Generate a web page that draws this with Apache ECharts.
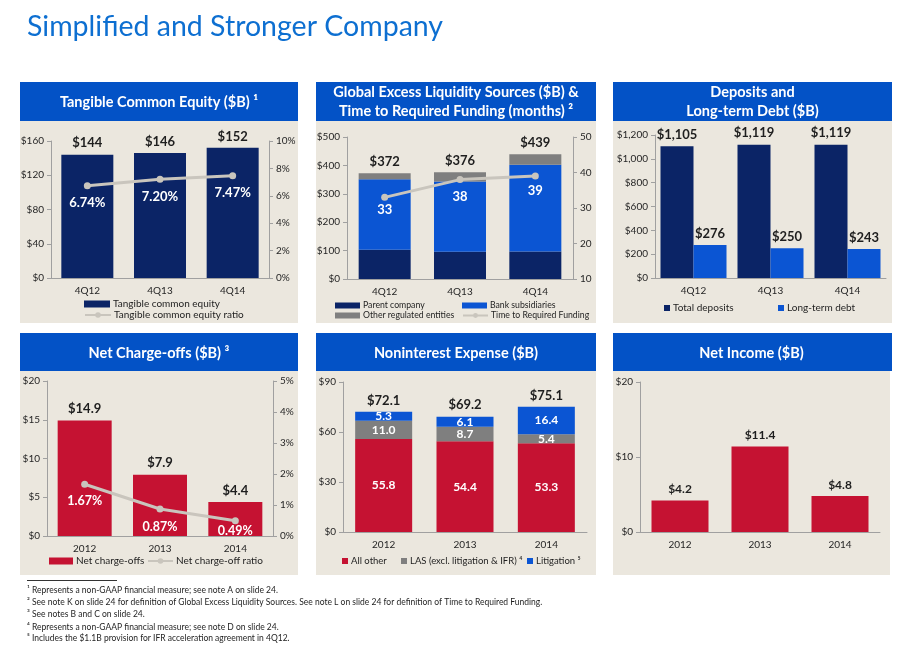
<!DOCTYPE html>
<html><head><meta charset="utf-8">
<script src="https://cdn.jsdelivr.net/npm/echarts@6/dist/echarts.min.js"></script>
<style>html,body{margin:0;padding:0;background:#fff;}#c{width:918px;height:645px;}</style>
</head><body><div id="c"></div>
<script>
// ---- data ----
const quarters = ['4Q12', '4Q13', '4Q14'];
const years = ['2012', '2013', '2014'];
const tce = [144, 146, 152];
const tceRatio = [6.74, 7.20, 7.47];
const gelsParent = [103, 96, 97];
const gelsBank = [248, 247, 305];
const gelsOther = [21, 33, 37];
const gelsTotal = [372, 376, 439];
const ttrf = [33, 38, 39];
const deposits = [1105, 1119, 1119];
const ltDebt = [276, 250, 243];
const nco = [14.9, 7.9, 4.4];
const ncoRatio = [1.67, 0.87, 0.49];
const nieAllOther = [55.8, 54.4, 53.3];
const nieLAS = [11.0, 8.7, 5.4];
const nieLit = [5.3, 6.1, 16.4];
const nieTotal = [72.1, 69.2, 75.1];
const netIncome = [4.2, 11.4, 4.8];

// ---- style ----
const F = 'Lato, "Open Sans", sans-serif';
const NAVY = '#0B2466', BLUE = '#0B55D3', GRAY = '#7F7F7F', RED = '#C51232', LG = '#C9C5BD';
const BEIGE = '#EBE7DE', HEAD = '#0352C6', AX = '#A0A0A0', TXT = '#1E1E1E';

const money = v => '$' + v.toLocaleString('en-US');
const pct = v => v + '%';

function xAx(g, data) {
  return { type: 'category', gridIndex: g, data,
    axisLine: { lineStyle: { color: AX } }, axisTick: { length: 5, lineStyle: { color: AX } },
    axisLabel: { color: '#262626', fontSize: 10, fontFamily: F, margin: 8 } };
}
function yAx(g, min, max, interval, fmt, pos) {
  return { type: 'value', gridIndex: g, min, max, interval, position: pos || 'left',
    splitLine: { show: false },
    axisLine: { show: true, lineStyle: { color: AX } },
    axisTick: { show: true, length: 4, lineStyle: { color: AX } },
    axisLabel: { color: '#262626', fontSize: 10, fontFamily: F, margin: 7, formatter: fmt } };
}
const topLbl = (fmt, size) => ({ show: true, position: 'top', distance: 5, formatter: fmt,
  fontWeight: 'bold', fontSize: size || 13, color: TXT, fontFamily: F });
const inLbl = (fmt, size) => ({ show: true, position: 'inside', formatter: fmt,
  fontWeight: 'bold', fontSize: size || 12, color: '#fff', fontFamily: F });
function lineLbl(vals, dists) {
  return vals.map((v, i) => ({ value: v, label: { distance: dists[i] } }));
}

function legendItem(name, x, y, w, h, icon, fs) {
  const d = icon ? { name, icon } : { name };
  return { show: true, left: x, top: y - 7, padding: 0, itemGap: 0, itemWidth: w, itemHeight: h,
    selectedMode: false, data: [d],
    textStyle: { fontSize: fs || 10, color: TXT, fontFamily: F, padding: [0, 0, 0, -2] } };
}

// ---- graphics ----
const panels = [
  { x: 20, y1: 82, y2: 121, y3: 323, w: 278, lines: ['Tangible Common Equity ($B) ¹'] },
  { x: 316, y1: 82, y2: 121, y3: 323, w: 280, lines: ['Global Excess Liquidity Sources ($B) &', 'Time to Required Funding (months) ²'] },
  { x: 613, y1: 82, y2: 121, y3: 323, w: 279, lines: ['Deposits and', 'Long-term Debt ($B)'] },
  { x: 20, y1: 333, y2: 371, y3: 575, w: 278, lines: ['Net Charge-offs ($B) ³'] },
  { x: 316, y1: 333, y2: 371, y3: 575, w: 280, lines: ['Noninterest Expense ($B)'] },
  { x: 613, y1: 333, y2: 371, y3: 575, w: 277, lines: ['Net Income ($B)'] },
];
const graphics = [];
panels.forEach((p, i) => {
  graphics.push({ type: 'rect', z: -10, shape: { x: p.x, y: p.y2, width: p.w, height: p.y3 - p.y2 }, style: { fill: BEIGE } });
  graphics.push({ type: 'rect', z: -10, shape: { x: p.x, y: p.y1, width: (i === 5 ? 279 : p.w), height: p.y2 - p.y1 }, style: { fill: HEAD } });
  const cx = p.x + p.w / 2, cy = (p.y1 + p.y2) / 2;
  p.lines.forEach((t, j) => {
    const yy = p.lines.length === 1 ? cy + 1 : cy + (j === 0 ? -9.5 : 9.5);
    graphics.push({ type: 'text', z: 5, style: { text: t, x: cx, y: yy, fill: '#fff', fontSize: 14.5, fontWeight: 'bold', fontFamily: F, align: 'center', verticalAlign: 'middle' } });
  });
});
graphics.push({ type: 'text', style: { text: 'Simplified and Stronger Company', x: 27, y: 27, fill: '#0D6FD1', fontSize: 28.5, fontFamily: F, align: 'left', verticalAlign: 'middle' } });
graphics.push({ type: 'line', shape: { x1: 27, y1: 580.5, x2: 117, y2: 580.5 }, style: { stroke: '#333', lineWidth: 1 } });
const notes = [
  ['¹', 'Represents a non-GAAP financial measure; see note A on slide 24.', 590],
  ['²', 'See note K on slide 24 for definition of Global Excess Liquidity Sources. See note L on slide 24 for definition of Time to Required Funding.', 602],
  ['³', 'See notes B and C on slide 24.', 614],
  ['⁴', 'Represents a non-GAAP financial measure; see note D on slide 24.', 627],
  ['⁵', 'Includes the $1.1B provision for IFR acceleration agreement in 4Q12.', 638],
];
notes.forEach(n => {
  graphics.push({ type: 'text', style: { text: n[0], x: 27, y: n[2] - 1, fill: TXT, fontSize: 8.5, fontFamily: F, verticalAlign: 'middle' } });
  graphics.push({ type: 'text', style: { text: n[1], x: 32, y: n[2], fill: TXT, fontSize: 8.5, fontFamily: F, verticalAlign: 'middle' } });
});

const option = {
  animation: false,
  textStyle: { fontFamily: F },
  grid: [
    { left: 51, top: 141, width: 218, height: 137 },
    { left: 347, top: 137, width: 226, height: 142 },
    { left: 655, top: 135, width: 231, height: 143 },
    { left: 47, top: 381, width: 226, height: 155 },
    { left: 343, top: 382, width: 244, height: 150 },
    { left: 640, top: 382, width: 240, height: 150 },
  ].map(g => Object.assign(g, { containLabel: false, outerBoundsMode: 'none' })),
  xAxis: [xAx(0, quarters), xAx(1, quarters), xAx(2, quarters), xAx(3, years), xAx(4, years), xAx(5, years)],
  yAxis: [
    yAx(0, 0, 160, 40, money),
    yAx(0, 0, 10, 2, pct, 'right'),
    yAx(1, 0, 500, 100, money),
    yAx(1, 10, 50, 10, v => v, 'right'),
    yAx(2, 0, 1200, 200, money),
    yAx(3, 0, 20, 5, money),
    yAx(3, 0, 5, 1, pct, 'right'),
    yAx(4, 0, 90, 30, money),
    yAx(5, 0, 20, 10, money),
  ],
  legend: [
    legendItem('Tangible common equity', 84, 306, 26, 7, 'rect'),
    legendItem('Tangible common equity ratio', 84, 317, 26, 7),
    legendItem('Parent company', 335, 308, 25, 6, 'rect', 8.7),
    legendItem('Bank subsidiaries', 462, 308, 25, 6, 'rect', 8.7),
    legendItem('Other regulated entities', 335, 318, 25, 6, 'rect', 8.7),
    legendItem('Time to Required Funding', 462, 318, 25, 6, null, 8.7),
    legendItem('Total deposits', 664, 310, 6, 6, 'rect'),
    legendItem('Long-term debt', 778, 310, 6, 6, 'rect'),
    legendItem('Net charge-offs', 49, 563, 24, 7, 'rect'),
    legendItem('Net charge-off ratio', 147, 563, 25, 7),
    legendItem('All other', 342, 563, 6, 6, 'rect', 9.5),
    legendItem('LAS (excl. litigation & IFR) ⁴', 401, 563, 6, 6, 'rect', 9.5),
    legendItem('Litigation ⁵', 527, 563, 6, 6, 'rect', 9.5),
  ],
  series: [
    // Panel 1
    { type: 'bar', name: 'Tangible common equity', xAxisIndex: 0, yAxisIndex: 0, data: tce, barWidth: 52,
      itemStyle: { color: NAVY }, label: topLbl(p => '$' + p.value) },
    { type: 'line', name: 'Tangible common equity ratio', xAxisIndex: 0, yAxisIndex: 1, data: tceRatio,
      symbol: 'circle', symbolSize: 7, lineStyle: { color: LG, width: 3 }, itemStyle: { color: LG }, z: 5,
      label: { show: true, position: 'bottom', distance: 7, formatter: p => p.value.toFixed(2) + '%', color: '#fff', fontWeight: 'bold', fontSize: 13, fontFamily: F } },
    // Panel 2
    { type: 'bar', name: 'Parent company', xAxisIndex: 1, yAxisIndex: 2, stack: 'g', data: gelsParent, barWidth: 52, itemStyle: { color: NAVY } },
    { type: 'bar', name: 'Bank subsidiaries', xAxisIndex: 1, yAxisIndex: 2, stack: 'g', data: gelsBank, barWidth: 52, itemStyle: { color: BLUE } },
    { type: 'bar', name: 'Other regulated entities', xAxisIndex: 1, yAxisIndex: 2, stack: 'g', data: gelsOther, barWidth: 52, itemStyle: { color: GRAY },
      label: topLbl(p => '$' + gelsTotal[p.dataIndex]) },
    { type: 'line', name: 'Time to Required Funding', xAxisIndex: 1, yAxisIndex: 3, data: lineLbl(ttrf, [2, 7, 5]),
      symbol: 'circle', symbolSize: 7, lineStyle: { color: LG, width: 3 }, itemStyle: { color: LG }, z: 5,
      label: { show: true, position: 'bottom', color: '#fff', fontWeight: 'bold', fontSize: 13, fontFamily: F } },
    // Panel 3
    { type: 'bar', name: 'Total deposits', xAxisIndex: 2, yAxisIndex: 4, data: deposits, barWidth: 33, barGap: '0%',
      itemStyle: { color: NAVY }, label: topLbl(p => money(p.value)) },
    { type: 'bar', name: 'Long-term debt', xAxisIndex: 2, yAxisIndex: 4, data: ltDebt, barWidth: 33, barGap: '0%',
      itemStyle: { color: BLUE }, label: topLbl(p => money(p.value)) },
    // Panel 4
    { type: 'bar', name: 'Net charge-offs', xAxisIndex: 3, yAxisIndex: 5, data: nco, barWidth: 54,
      itemStyle: { color: RED }, label: topLbl(p => '$' + p.value.toFixed(1)) },
    { type: 'line', name: 'Net charge-off ratio', xAxisIndex: 3, yAxisIndex: 6, data: lineLbl(ncoRatio, [7, 8, 0]),
      symbol: 'circle', symbolSize: 7, lineStyle: { color: LG, width: 3 }, itemStyle: { color: LG }, z: 5,
      label: { show: true, position: 'bottom', formatter: p => p.value.toFixed(2) + '%', color: '#fff', fontWeight: 'bold', fontSize: 12.5, fontFamily: F } },
    // Panel 5
    { type: 'bar', name: 'All other', xAxisIndex: 4, yAxisIndex: 7, stack: 'n', data: nieAllOther, barWidth: 57,
      itemStyle: { color: RED }, label: inLbl(p => p.value.toFixed(1)) },
    { type: 'bar', name: 'LAS (excl. litigation & IFR) ⁴', xAxisIndex: 4, yAxisIndex: 7, stack: 'n', data: nieLAS, barWidth: 57,
      itemStyle: { color: GRAY }, label: inLbl(p => p.value.toFixed(1)) },
    { type: 'bar', name: 'Litigation ⁵', xAxisIndex: 4, yAxisIndex: 7, stack: 'n', data: nieLit, barWidth: 57,
      itemStyle: { color: BLUE }, label: inLbl(p => p.value.toFixed(1)) },
    { type: 'bar', name: 'NIE total', xAxisIndex: 4, yAxisIndex: 7, data: nieTotal, barWidth: 57, barGap: '-100%', z: 1, silent: true,
      itemStyle: { color: 'rgba(0,0,0,0)' }, label: topLbl(p => '$' + p.value.toFixed(1)) },
    // Panel 6
    { type: 'bar', name: 'Net income', xAxisIndex: 5, yAxisIndex: 8, data: netIncome, barWidth: 57,
      itemStyle: { color: RED }, label: topLbl(p => '$' + p.value.toFixed(1), 12) },
  ],
  graphic: graphics,
};
const chart = echarts.init(document.getElementById('c'), null, { renderer: 'canvas' });
chart.setOption(option);
</script></body></html>
